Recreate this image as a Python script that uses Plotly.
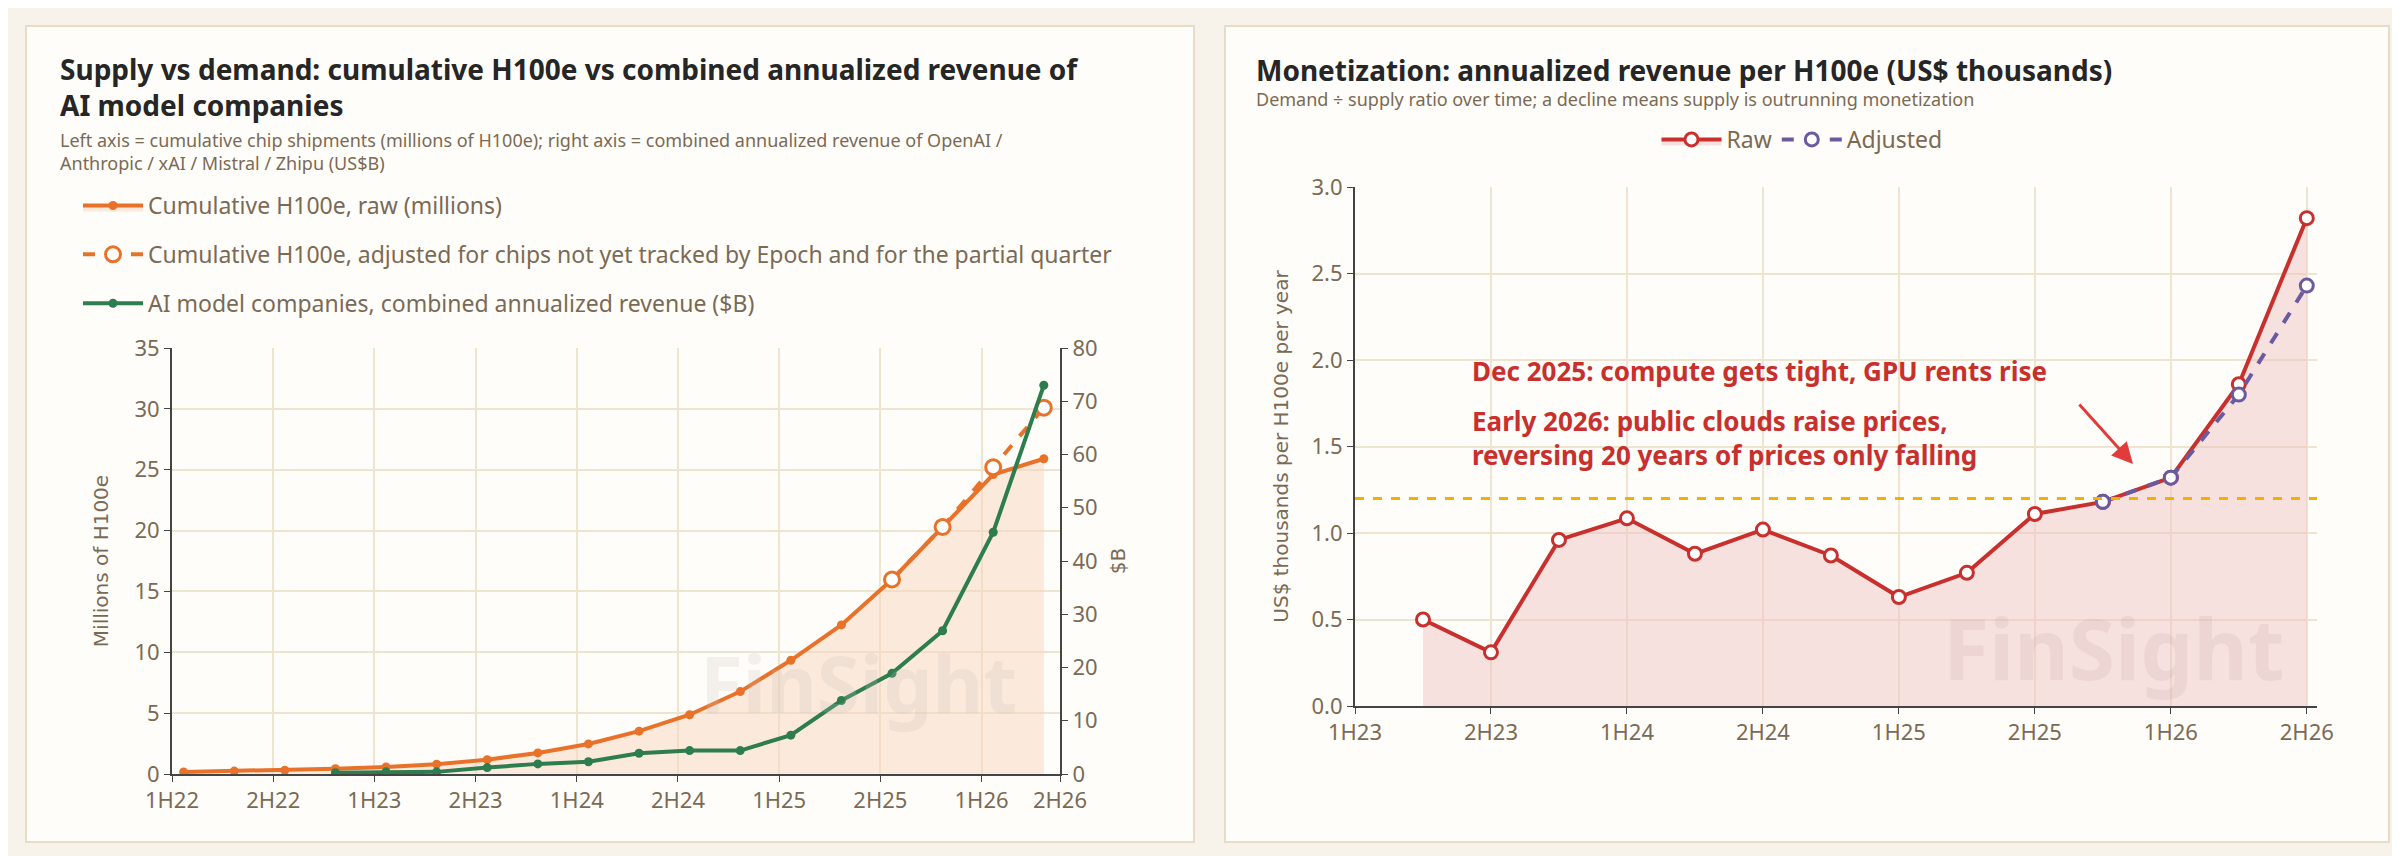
import plotly.graph_objects as go

# ---------- data ----------
left_tick_labels = ["1H22", "2H22", "1H23", "2H23", "1H24", "2H24", "1H25", "2H25", "1H26", "2H26"]
h100e_raw = [0.17, 0.24, 0.30, 0.44, 0.58, 0.81, 1.18, 1.73, 2.47, 3.52, 4.87, 6.77,
             9.34, 12.25, 15.98, 20.3, 24.6, 25.9]
h100e_adj = [None] * 14 + [15.98, 20.3, 25.2, 30.1]
revenue_b = [None] * 3 + [0.23, 0.4, 0.4, 1.2, 1.9, 2.3, 3.9, 4.4, 4.4, 7.3, 13.8, 18.9, 26.9, 45.4, 73.0]

right_tick_labels = ["1H23", "2H23", "1H24", "2H24", "1H25", "2H25", "1H26", "2H26"]
rev_per_raw = [0.50, 0.31, 0.96, 1.085, 0.88, 1.02, 0.87, 0.63, 0.77, 1.11, 1.18, 1.32, 1.86, 2.82]
rev_per_adj = [None] * 10 + [1.18, 1.32, 1.80, 2.43]
threshold = 1.2

# ---------- style ----------
ORANGE = "#E8722A"; GREEN = "#2E7D4F"; RED = "#C8302E"; PURPLE = "#6A5AA0"
GOLD = "#F2B100"; TXT = "#7A6A55"; DARK = "#262626"; GRID = "#EFE4D0"
FONT = "Liberation Sans Narrow, Noto Sans, sans-serif"
W, H = 2400, 856

xl = [i + 0.23 for i in range(len(h100e_raw))]
xr = [i + 1 for i in range(len(rev_per_raw))]

fig = go.Figure()
fig.add_trace(go.Scatter(x=xl, y=h100e_raw, mode="lines+markers", name="Cumulative H100e, raw (millions)",
                         line=dict(color=ORANGE, width=4), marker=dict(size=9, color=ORANGE),
                         fill="tozeroy", fillcolor="rgba(248,214,190,0.5)", xaxis="x", yaxis="y",
                         legend="legend", legendgroup="a"))
fig.add_trace(go.Scatter(x=xl, y=h100e_adj, mode="lines+markers",
                         name="Cumulative H100e, adjusted for chips not yet tracked by Epoch and for the partial quarter",
                         line=dict(color=ORANGE, width=4, dash="dash"),
                         marker=dict(size=15, color="white", line=dict(color=ORANGE, width=3)),
                         xaxis="x", yaxis="y", legend="legend", legendgroup="b"))
fig.add_trace(go.Scatter(x=xl, y=revenue_b, mode="lines+markers", name="AI model companies, combined annualized revenue ($B)",
                         line=dict(color=GREEN, width=4), marker=dict(size=9, color=GREEN),
                         xaxis="x", yaxis="y2", legend="legend", legendgroup="c"))

fig.add_trace(go.Scatter(x=xr, y=rev_per_raw, mode="lines+markers", name="Raw",
                         line=dict(color=RED, width=4), marker=dict(size=13, color="white", line=dict(color=RED, width=3)),
                         fill="tozeroy", fillcolor="rgba(236,190,190,0.45)", xaxis="x3", yaxis="y3", legend="legend2"))
fig.add_trace(go.Scatter(x=xr, y=rev_per_adj, mode="lines+markers", name="Adjusted",
                         line=dict(color=PURPLE, width=4, dash="dash"),
                         marker=dict(size=13, color="white", line=dict(color=PURPLE, width=3)),
                         xaxis="x3", yaxis="y3", legend="legend2"))

ax = dict(showgrid=True, gridcolor=GRID, gridwidth=2, ticks="outside", ticklen=6, tickcolor="#444",
          showline=True, linecolor="#444", linewidth=2, tickfont=dict(size=22, color=TXT, family=FONT),
          zeroline=False, automargin=False)
ttl = dict(size=20, color=TXT, family="DejaVu Sans")

fig.update_layout(
    width=W, height=H, margin=dict(l=0, r=0, t=0, b=0),
    paper_bgcolor="#F7F2EA", plot_bgcolor="rgba(0,0,0,0)", font=dict(family=FONT, color=TXT),
    xaxis=dict(ax, domain=[164 / W, 1052 / W], range=[0, 17.55],
               tickvals=[0, 2, 4, 6, 8, 10, 12, 14, 16, 17.55], ticktext=left_tick_labels),
    yaxis=dict(ax, domain=[1 - 766 / H, 1 - 340 / H], range=[0, 35], dtick=5,
               title=dict(text="Millions of H100e", font=ttl, standoff=20)),
    yaxis2=dict(ax, overlaying="y", side="right", range=[0, 80], dtick=10, showgrid=False, anchor="x",
                title=dict(text="$B", font=ttl, standoff=14)),
    xaxis3=dict(ax, domain=[1347 / W, 2309 / W], range=[0, 14.15], anchor="y3",
                tickvals=[0, 2, 4, 6, 8, 10, 12, 14], ticktext=right_tick_labels),
    yaxis3=dict(ax, domain=[1 - 698 / H, 1 - 179 / H], range=[0, 3.0], dtick=0.5, tickformat=".1f", anchor="x3",
                title=dict(text="US$ thousands per H100e per year", font=ttl, standoff=18)),
    legend=dict(x=70 / W, y=1 - 176 / H, xanchor="left", yanchor="top", orientation="v", bgcolor="rgba(0,0,0,0)",
                font=dict(size=23, color=TXT, family=FONT), tracegroupgap=16, itemwidth=60),
    legend2=dict(x=1794 / W, y=1 - 110 / H, xanchor="center", yanchor="top", orientation="h",
                 bgcolor="rgba(0,0,0,0)", font=dict(size=23, color=TXT, family=FONT), itemwidth=60),
    showlegend=True,
)

shapes = [
    dict(type="rect", xref="paper", yref="paper", x0=18 / W, x1=1186 / W, y0=1 - 834 / H, y1=1 - 18 / H,
         fillcolor="#FFFDF9", line=dict(color="#E8DCC8", width=2), layer="below"),
    dict(type="rect", xref="paper", yref="paper", x0=1217 / W, x1=2381 / W, y0=1 - 834 / H, y1=1 - 18 / H,
         fillcolor="#FFFDF9", line=dict(color="#E8DCC8", width=2), layer="below"),
    dict(type="line", xref="x3", yref="y3", x0=0, x1=14.15, y0=threshold, y1=threshold,
         line=dict(color=GOLD, width=3, dash="dash")),
]
fig.update_layout(shapes=shapes)

ann = [
    dict(text="<b>Supply vs demand: cumulative H100e vs combined annualized revenue of<br>AI model companies</b>",
         x=50 / W, y=1 - 40 / H, font=dict(size=28, color=DARK, family="Noto Sans"), align="left"),
    dict(text="Left axis = cumulative chip shipments (millions of H100e); right axis = combined annualized revenue of OpenAI /<br>Anthropic / xAI / Mistral / Zhipu (US$B)",
         x=50 / W, y=1 - 118 / H, font=dict(size=18, color=TXT, family="Noto Sans"), align="left"),
    dict(text="<b>Monetization: annualized revenue per H100e (US$ thousands)</b>",
         x=1246 / W, y=1 - 41 / H, font=dict(size=28, color=DARK, family="Noto Sans"), align="left"),
    dict(text="Demand ÷ supply ratio over time; a decline means supply is outrunning monetization",
         x=1246 / W, y=1 - 77 / H, font=dict(size=18, color=TXT, family="Noto Sans"), align="left"),
    dict(text="<b>Dec 2025: compute gets tight, GPU rents rise</b>", x=1462 / W, y=1 - 343 / H,
         font=dict(size=26, color=RED, family=FONT), align="left"),
    dict(text="<b>Early 2026: public clouds raise prices,<br>reversing 20 years of prices only falling</b>",
         x=1462 / W, y=1 - 393 / H, font=dict(size=26, color=RED, family=FONT), align="left"),
    dict(text="<b>FinSight</b>", x=850 / W, y=1 - 620 / H, xanchor="center",
         font=dict(size=78, color="rgba(200,190,185,0.22)", family="Noto Sans")),
    dict(text="<b>FinSight</b>", x=2105 / W, y=1 - 580 / H, xanchor="center",
         font=dict(size=84, color="rgba(200,160,160,0.18)", family="Noto Sans")),
]
for a in ann:
    a.setdefault("xanchor", "left")
    a.update(xref="paper", yref="paper", yanchor="top", showarrow=False)
ann.append(dict(x=2125 / W, y=1 - 456 / H, ax=2070 - 2125, ay=395 - 456,
                xref="paper", yref="paper", showarrow=True, arrowhead=2, arrowsize=1.4, arrowwidth=3,
                arrowcolor="#E23B3B", text=""))
fig.update_layout(annotations=ann)

fig.write_html("out.html")
